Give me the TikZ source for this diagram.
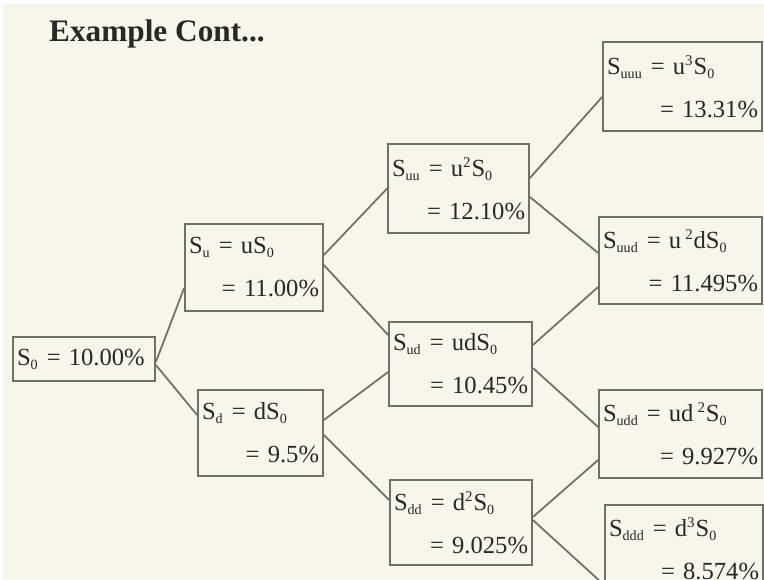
\documentclass[tikz,border=0pt]{standalone}
\usepackage{fontspec}
\setmainfont{Liberation Serif}
\usetikzlibrary{positioning}
\definecolor{paper}{RGB}{248,246,234}
\definecolor{boxline}{RGB}{112,112,102}
\definecolor{ink}{RGB}{40,40,36}
\newcommand\rateline[2]{#1\\\leavevmode\hfill #2}
\newcommand\lo[1]{\textsubscript{\fontsize{8}{8}\selectfont #1}}
\newcommand\hi[1]{\textsuperscript{\fontsize{8.5}{8.5}\selectfont #1}}
\tikzset{
  rate/.style={
  draw=boxline,
  line width=1pt,
  align=left,
  text=ink,
  inner xsep=0.08cm,
  inner ysep=0.05cm,
  font=\fontsize{14}{24.5}\selectfont,
  },
  link/.style={draw=boxline, line width=1pt},
}

\begin{document}
\begin{tikzpicture}
\useasboundingbox (0,0) rectangle (15.28,-11.58);
\fill[paper] (0.06,-0.08) rectangle (15.28,-11.58);

% heading
\node[anchor=base west, text=ink, font=\fontsize{17.8}{21}\selectfont\bfseries] (title) at (0.86,-0.84) {Example Cont...};

% the root
\node[rate, text width=2.68cm, minimum height=0.88cm] (s0) at (1.68,-7.18) {S\lo{0} = 10.00\%};

% first step
\node[rate, text width=2.60cm, minimum height=1.74cm] (su) at (5.08,-5.35) {\rateline{S\lo{u} = uS\lo{0}}{= 11.00\%}};
\node[rate, text width=2.34cm, minimum height=1.72cm] (sd) at (5.21,-8.66) {\rateline{S\lo{d} = dS\lo{0}}{= 9.5\%}};

% second step
\node[rate, text width=2.66cm, minimum height=1.78cm] (suu) at (9.17,-3.77) {\rateline{S\lo{uu} = u\hi{2}S\lo{0}}{= 12.10\%}};
\node[rate, text width=2.70cm, minimum height=1.68cm] (sud) at (9.21,-7.28) {\rateline{S\lo{ud} = udS\lo{0}}{= 10.45\%}};
\node[rate, text width=2.68cm, minimum height=1.70cm] (sdd) at (9.22,-10.45) {\rateline{S\lo{dd} = d\hi{2}S\lo{0}}{= 9.025\%}};

% third step
\node[rate, text width=3.02cm, minimum height=1.78cm] (suuu) at (13.65,-1.73) {\rateline{S\lo{uuu} = u\hi{3}S\lo{0}}{= 13.31\%}};
\node[rate, text width=3.10cm, minimum height=1.74cm] (suud) at (13.61,-5.21) {\rateline{S\lo{uud} = u\,\hi{2}dS\lo{0}}{= 11.495\%}};
\node[rate, text width=3.10cm, minimum height=1.76cm] (sudd) at (13.61,-8.68) {\rateline{S\lo{udd} = ud\,\hi{2}S\lo{0}}{= 9.927\%}};
\node[rate, text width=3.00cm, minimum height=1.74cm] (sddd) at (13.68,-10.97) {\rateline{S\lo{ddd} = d\hi{3}S\lo{0}}{= 8.574\%}};

% branches
\draw[link] ([yshift=-0.06cm]s0.east) -- ([yshift=-0.41cm]su.west);
\draw[link] ([yshift=-0.12cm]s0.east) -- ([yshift=0.36cm]sd.west);

\draw[link] ([yshift=0.25cm]su.east) -- (suu.west);
\draw[link] ([yshift=0.05cm]su.east) -- ([yshift=0.58cm]sud.west);
\draw[link] ([yshift=0.26cm]sd.east) -- ([yshift=-0.16cm]sud.west);
\draw[link] ([yshift=-0.04cm]sd.east) -- ([yshift=0.45cm]sdd.west);

\draw[link] ([yshift=0.21cm]suu.east) -- ([yshift=-0.21cm]suuu.west);
\draw[link] ([yshift=-0.17cm]suu.east) -- ([yshift=0.15cm]suud.west);
\draw[link] ([yshift=0.38cm]sud.east) -- ([yshift=-0.53cm]suud.west);
\draw[link] ([yshift=-0.08cm]sud.east) -- ([yshift=0.14cm]sudd.west);
\draw[link] ([yshift=0.11cm]sdd.east) -- ([yshift=-0.52cm]sudd.west);
\draw[link] ([yshift=0.05cm]sdd.east) -- ([yshift=-0.73cm]sddd.west);

\end{tikzpicture}
\end{document}
